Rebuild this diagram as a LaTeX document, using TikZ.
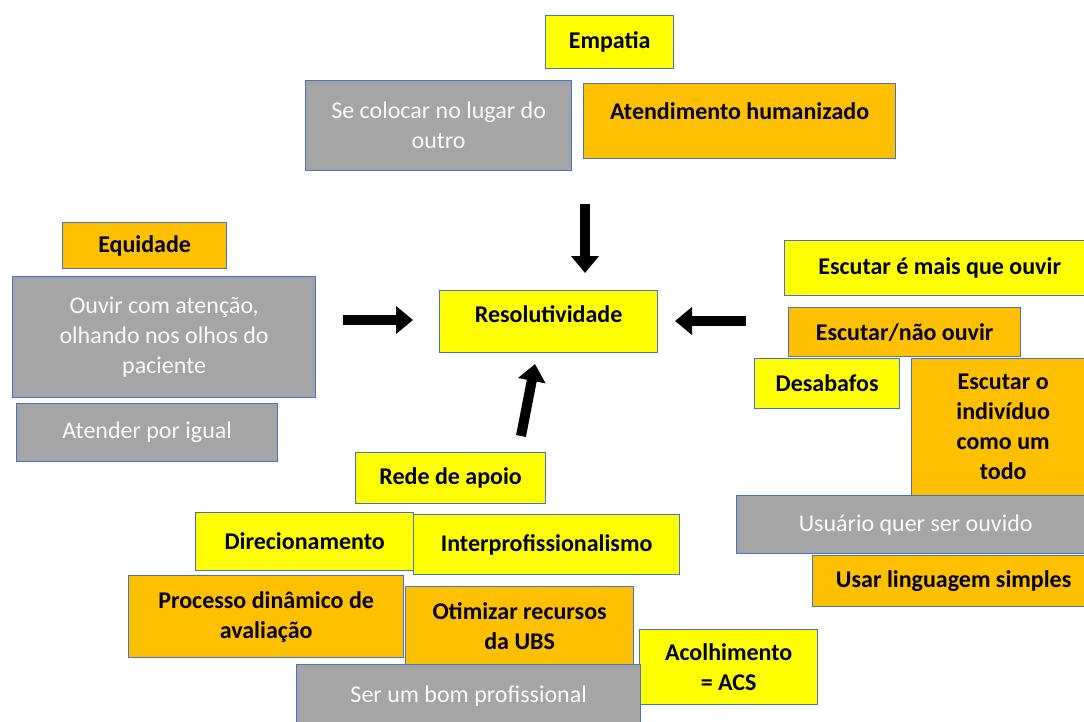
\documentclass[tikz,border=0pt]{standalone}
\usepackage{fontspec}
\setmainfont{Carlito}
\usetikzlibrary{arrows.meta}
\definecolor{ylw}{HTML}{FFFF00}
\definecolor{org}{HTML}{FFC000}
\definecolor{gry}{HTML}{A5A5A5}
\definecolor{edge}{HTML}{4472C4}
\begin{document}
\begin{tikzpicture}[x=1pt,y=-1pt,
  box/.style={draw=edge, line width=1.3pt, anchor=north west, align=center, inner sep=0pt,
    font=\fontsize{24}{30}\selectfont\bfseries, text=black},
  yellowbox/.style={box, fill=ylw},
  orangebox/.style={box, fill=org},
  greybox/.style={box, fill=gry, text=white!95!gry, font=\fontsize{24}{30}\selectfont},
  fat/.style={line width=10pt, -{Triangle[width=27pt,length=17pt]}}]
\useasboundingbox (0,0) rectangle (1084,722);
% top group
\node[yellowbox, minimum width=128, minimum height=53] (empatia) at (545,15) {Empatia};
\node[greybox, minimum width=266, minimum height=90] (lugar) at (305,80) {Se colocar no lugar do\\outro};
\node[orangebox, minimum width=312, minimum height=75] (humano) at (583,83) {Atendimento humanizado\\[-10pt]};
% left group
\node[orangebox, minimum width=164, minimum height=46] (equidade) at (62,222) {Equidade};
\node[greybox, minimum width=303, minimum height=121] (olhos) at (12,276) {Ouvir com aten\c{c}\~ao,\\olhando nos olhos do\\paciente};
\node[greybox, minimum width=261, minimum height=58] (igual) at (16,403) {Atender por igual};
% centre
\node[yellowbox, minimum width=218, minimum height=62] (resol) at (439,290) {Resolutividade\\[-14pt]};
% right group
\node[yellowbox, minimum width=310, minimum height=55] (mais) at (784,240) {Escutar \'e mais que ouvir};
\node[orangebox, minimum width=232, minimum height=49] (naoouvir) at (788,307) {Escutar/n\~ao ouvir};
\node[yellowbox, minimum width=145, minimum height=50] (desabafo) at (754,358) {Desabafos};
\node[orangebox, minimum width=183, minimum height=137] (todo) at (911,358) {Escutar o\\indiv\'iduo\\como um\\todo};
\node[greybox, minimum width=358, minimum height=58] (usuario) at (736,495) {Usu\'ario quer ser ouvido};
\node[orangebox, minimum width=282, minimum height=51] (simples) at (812,555) {Usar linguagem simples};
% bottom group
\node[yellowbox, minimum width=190, minimum height=51] (rede) at (355,452) {Rede de apoio};
\node[yellowbox, minimum width=218, minimum height=58] (direc) at (195,512) {Direcionamento};
\node[yellowbox, minimum width=266, minimum height=60] (inter) at (413,514) {Interprofissionalismo};
\node[orangebox, minimum width=275, minimum height=82] (processo) at (128,575) {Processo din\^amico de\\avalia\c{c}\~ao};
\node[orangebox, minimum width=228, minimum height=78] (otimizar) at (405,586) {Otimizar recursos\\da UBS};
\node[yellowbox, minimum width=178, minimum height=75] (acolhe) at (639,629) {Acolhimento\\= ACS};
\node[greybox, minimum width=344, minimum height=62] (bom) at (296,664) {Ser um bom profissional};
% arrows
\coordinate (topin) at (585,204);
\coordinate (topout) at (585,273);
\coordinate (lftin) at (343,320);
\coordinate (lftout) at (413,320);
\coordinate (rgtin) at (746,321);
\coordinate (rgtout) at (675,321);
\coordinate (botin) at (521,436);
\coordinate (botout) at (535,364);
\draw[fat] (topin) -- (topout);
\draw[fat] (lftin) -- (lftout);
\draw[fat] (rgtin) -- (rgtout);
\draw[fat] (botin) -- (botout);
\end{tikzpicture}
\end{document}
